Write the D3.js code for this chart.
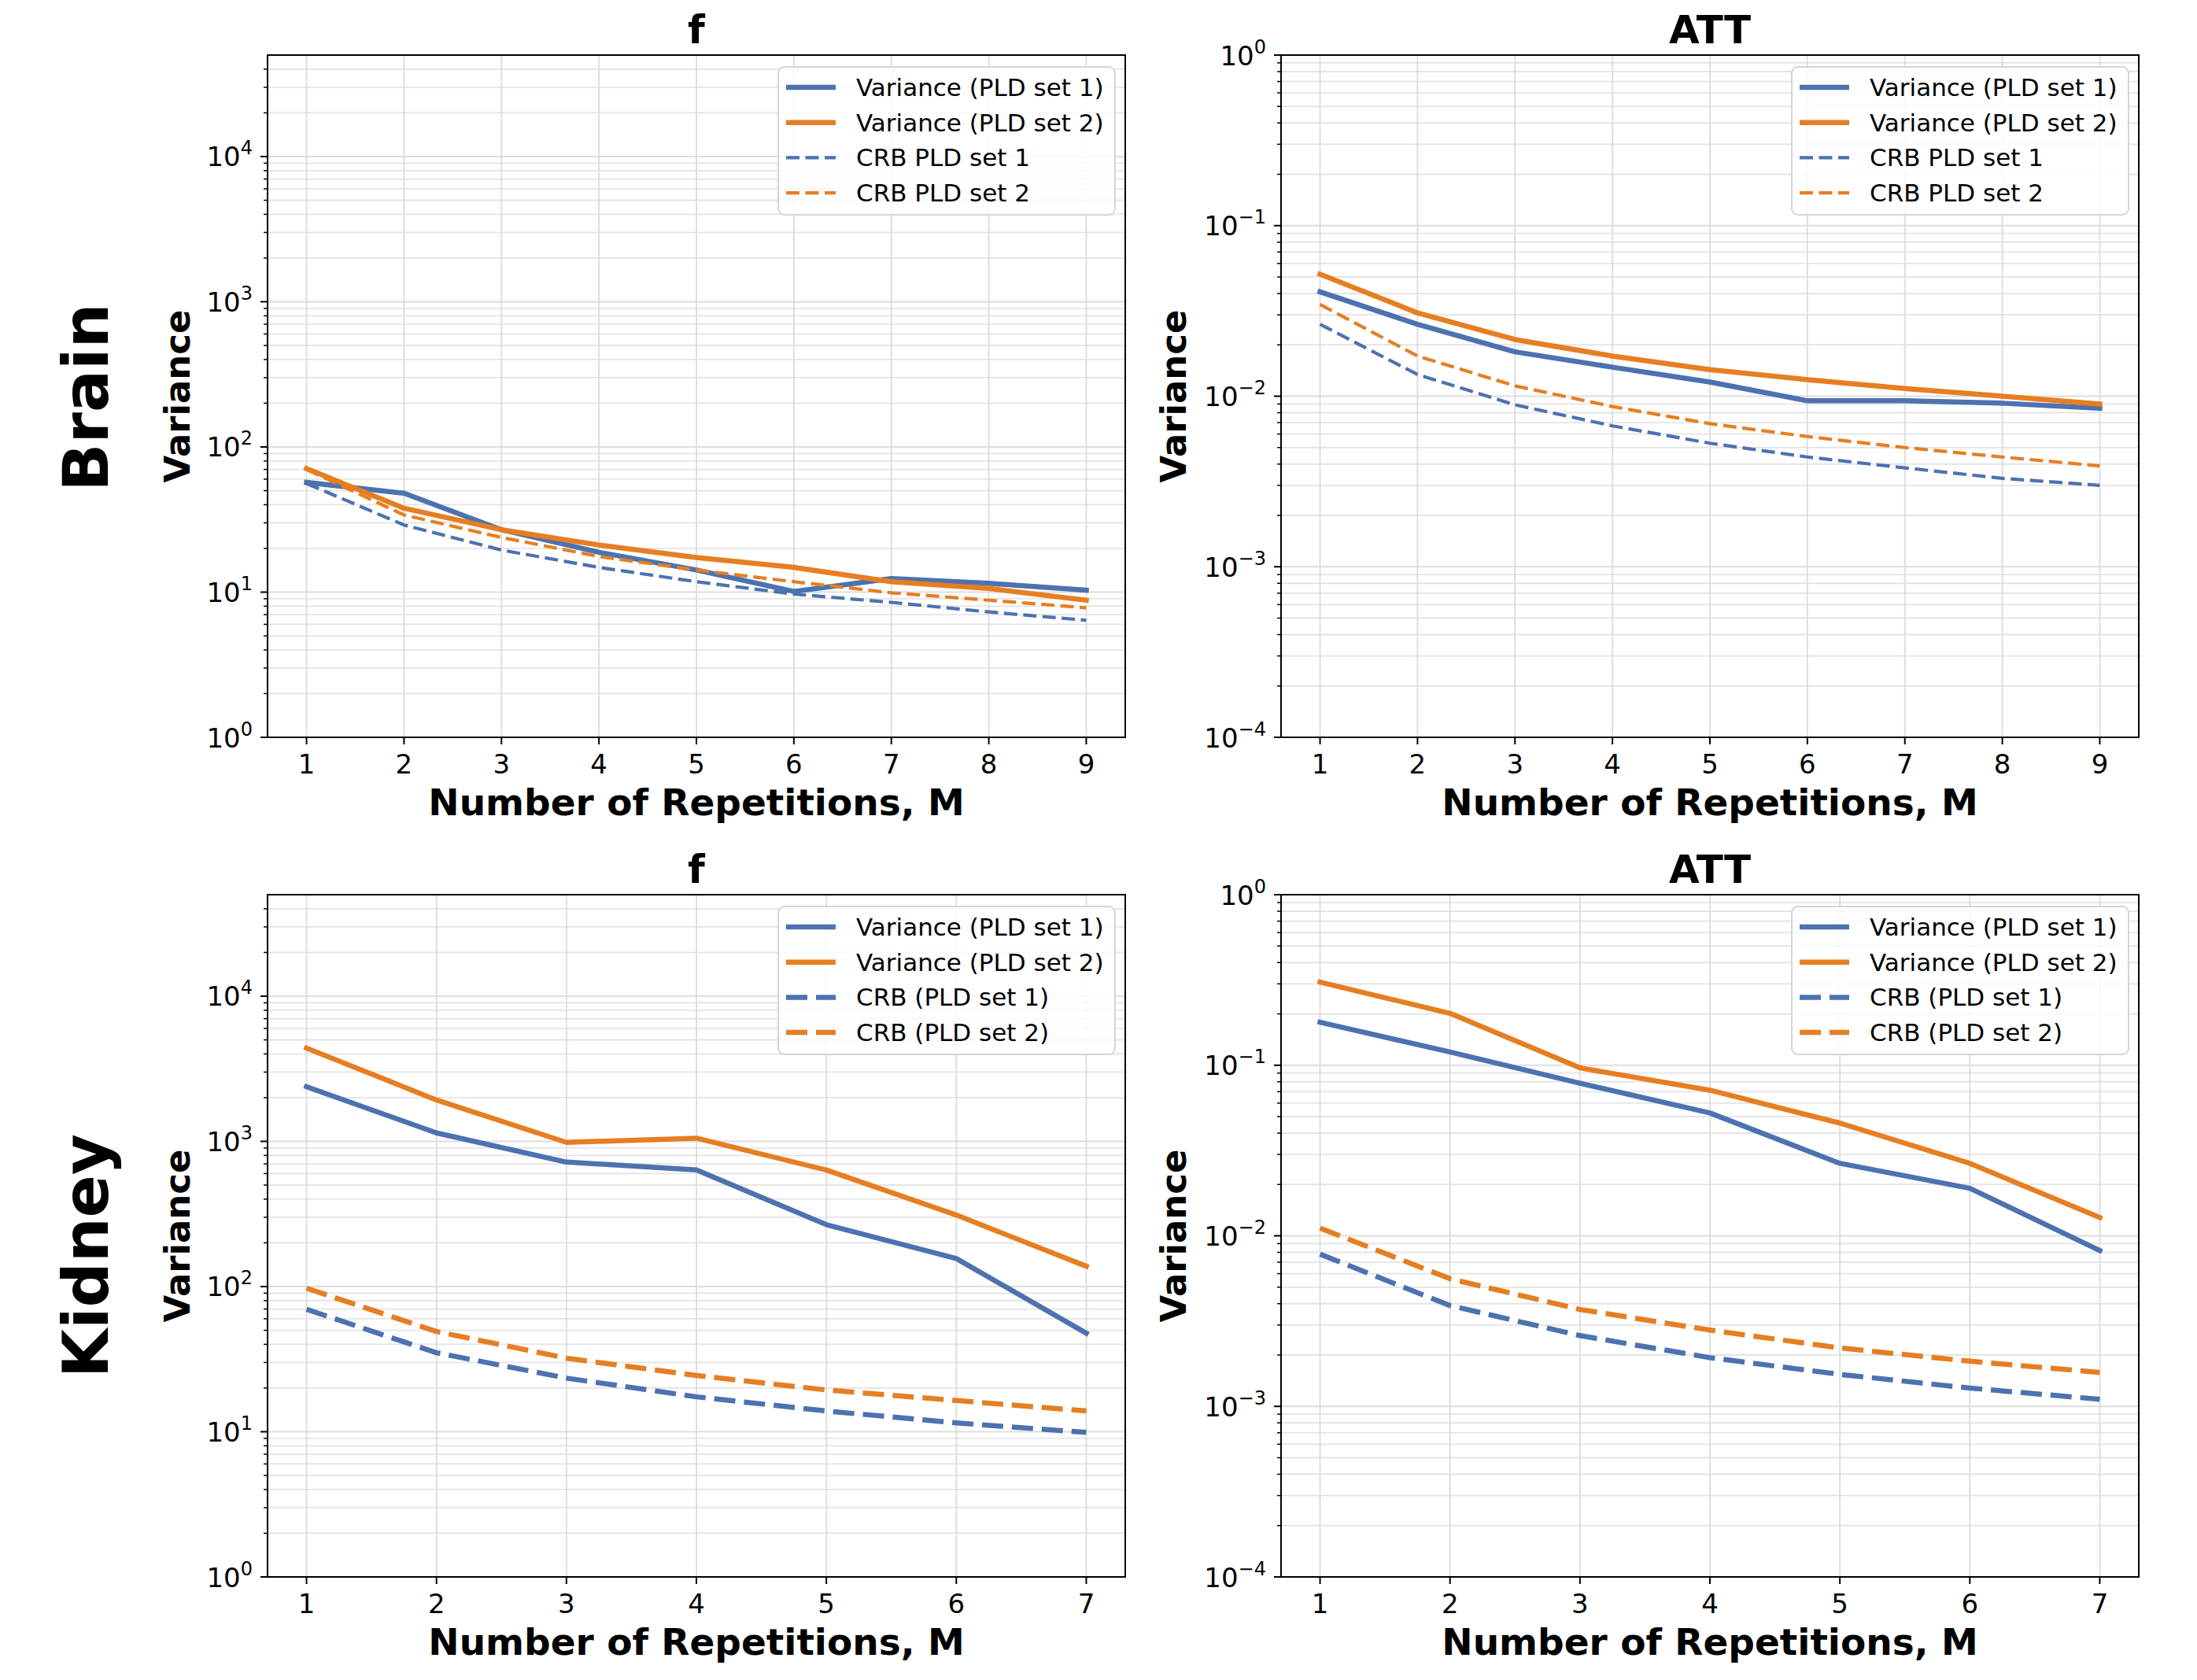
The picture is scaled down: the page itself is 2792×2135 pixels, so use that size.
<!DOCTYPE html>
<html>
<head>
<meta charset="utf-8">
<script src="https://cdn.jsdelivr.net/npm/d3@7"></script>
<style>
  body { margin: 0; background: #fff; }
  text { font-family: "DejaVu Sans", sans-serif; }
</style>
</head>
<body>
<svg id="fig" width="2792" height="2135"></svg>
<script>
// repetitions
var mBrain = [1, 2, 3, 4, 5, 6, 7, 8, 9];
var mKidney = [1, 2, 3, 4, 5, 6, 7];

// Brain, f
var brainFVar1 = [57, 48, 26.9, 18.8, 14.2, 10.1, 12.4, 11.5, 10.3];
var brainFVar2 = [71, 37.8, 26.9, 21.1, 17.3, 14.8, 11.8, 10.6, 8.8];
var brainFCrb1 = [56, 29, 19.5, 14.8, 11.8, 9.7, 8.5, 7.3, 6.4];
var brainFCrb2 = [70, 34, 23.8, 17.6, 14.2, 11.8, 9.9, 8.8, 7.8];

// Brain, ATT
var brainAttVar1 = [0.0409, 0.0264, 0.0182, 0.0148, 0.0121, 0.0094, 0.0094, 0.0091, 0.0085];
var brainAttVar2 = [0.0519, 0.0308, 0.0215, 0.0172, 0.0143, 0.0125, 0.0111, 0.0100, 0.0090];
var brainAttCrb1 = [0.0264, 0.0134, 0.0089, 0.0067, 0.0053, 0.0044, 0.0038, 0.0033, 0.0030];
var brainAttCrb2 = [0.0345, 0.0172, 0.0115, 0.0087, 0.0069, 0.0058, 0.0050, 0.0044, 0.0039];

// Kidney, f
var kidneyFVar1 = [2377, 1143, 720, 635, 267, 156, 47.7];
var kidneyFVar2 = [4387, 1926, 984, 1052, 635, 311, 138];
var kidneyFCrb1 = [69.7, 35, 23.4, 17.4, 13.9, 11.5, 9.9];
var kidneyFCrb2 = [97.5, 49, 32.1, 24.4, 19.4, 16.4, 13.9];

// Kidney, ATT
var kidneyAttVar1 = [0.1786, 0.1196, 0.0784, 0.0525, 0.0266, 0.0190, 0.0082];
var kidneyAttVar2 = [0.307, 0.2015, 0.0965, 0.0714, 0.0458, 0.0266, 0.0128];
var kidneyAttCrb1 = [0.0078, 0.0039, 0.0026, 0.00193, 0.00154, 0.00128, 0.0011];
var kidneyAttCrb2 = [0.0111, 0.0056, 0.0037, 0.0028, 0.0022, 0.00184, 0.00158];

var legendBrain = ["Variance (PLD set 1)", "Variance (PLD set 2)", "CRB PLD set 1", "CRB PLD set 2"];
var legendKidney = ["Variance (PLD set 1)", "Variance (PLD set 2)", "CRB (PLD set 1)", "CRB (PLD set 2)"];

var fExponents = [0, 1, 2, 3, 4];
var attExponents = [-4, -3, -2, -1, 0];

var rowLabels = ["Brain", "Kidney"];

var blue = "#4c72b0", orange = "#e67e22";

var panels = [
  {x0: 340, x1: 1430, y0: 70, y1: 937, title: "f", xs: mBrain, ydom: [1, 5e4], exps: fExponents,
   series: [brainFVar1, brainFVar2, brainFCrb1, brainFCrb2], labels: legendBrain,
   dashW: 4.2, dash: "17,7.5", ylabOff: 99},
  {x0: 1628, x1: 2718, y0: 70, y1: 937, title: "ATT", xs: mBrain, ydom: [1e-4, 1], exps: attExponents,
   series: [brainAttVar1, brainAttVar2, brainAttCrb1, brainAttCrb2], labels: legendBrain,
   dashW: 4.2, dash: "17,7.5", ylabOff: 121},
  {x0: 340, x1: 1430, y0: 1137, y1: 2004, title: "f", xs: mKidney, ydom: [1, 5e4], exps: fExponents,
   series: [kidneyFVar1, kidneyFVar2, kidneyFCrb1, kidneyFCrb2], labels: legendKidney,
   dashW: 6.5, dash: "27,11", ylabOff: 99},
  {x0: 1628, x1: 2718, y0: 1137, y1: 2004, title: "ATT", xs: mKidney, ydom: [1e-4, 1], exps: attExponents,
   series: [kidneyAttVar1, kidneyAttVar2, kidneyAttCrb1, kidneyAttCrb2], labels: legendKidney,
   dashW: 6.5, dash: "27,11", ylabOff: 121}
];

var svg = d3.select("#fig");

panels.forEach(function(p) {
  var n = p.xs.length;
  var pad = (n - 1) * 0.05;
  var x = d3.scaleLinear().domain([1 - pad, n + pad]).range([p.x0, p.x1]);
  var y = d3.scaleLog().domain(p.ydom).range([p.y1, p.y0]);
  var g = svg.append("g");

  // minor values on the log axis
  var minor = [];
  var lo = Math.floor(Math.log10(p.ydom[0])), hi = Math.ceil(Math.log10(p.ydom[1]));
  for (var d = lo; d < hi; d++) {
    for (var k = 2; k <= 9; k++) {
      var v = k * Math.pow(10, d);
      if (v > p.ydom[0] && v < p.ydom[1]) minor.push(v);
    }
  }

  // grid
  g.selectAll(".gminor").data(minor).enter().append("line")
    .attr("x1", p.x0).attr("x2", p.x1)
    .attr("y1", function(v) { return y(v); }).attr("y2", function(v) { return y(v); })
    .attr("stroke", "#e4e4e4").attr("stroke-width", 1.8);
  g.selectAll(".gmajor").data(p.exps).enter().append("line")
    .attr("x1", p.x0).attr("x2", p.x1)
    .attr("y1", function(e) { return y(Math.pow(10, e)); }).attr("y2", function(e) { return y(Math.pow(10, e)); })
    .attr("stroke", "#dedede").attr("stroke-width", 2);
  g.selectAll(".gx").data(p.xs).enter().append("line")
    .attr("x1", function(v) { return x(v); }).attr("x2", function(v) { return x(v); })
    .attr("y1", p.y0).attr("y2", p.y1)
    .attr("stroke", "#dedede").attr("stroke-width", 2);

  // lines
  var line = d3.line()
    .x(function(d, i) { return x(p.xs[i]); })
    .y(function(d) { return y(d); });
  var styles = [
    {c: blue, w: 6.5, dash: null},
    {c: orange, w: 6.5, dash: null},
    {c: blue, w: p.dashW, dash: p.dash},
    {c: orange, w: p.dashW, dash: p.dash}
  ];
  p.series.forEach(function(s, i) {
    var st = styles[i];
    g.append("path").datum(s)
      .attr("d", line)
      .attr("fill", "none")
      .attr("stroke", st.c)
      .attr("stroke-width", st.w)
      .attr("stroke-linejoin", "round")
      .attr("stroke-linecap", st.dash ? "butt" : "square")
      .attr("stroke-dasharray", st.dash);
  });

  // frame
  g.append("rect")
    .attr("x", p.x0).attr("y", p.y0)
    .attr("width", p.x1 - p.x0).attr("height", p.y1 - p.y0)
    .attr("fill", "none").attr("stroke", "#000").attr("stroke-width", 2);

  // x axis ticks
  g.selectAll(".xt").data(p.xs).enter().append("line")
    .attr("x1", function(v) { return x(v); }).attr("x2", function(v) { return x(v); })
    .attr("y1", p.y1).attr("y2", p.y1 + 9)
    .attr("stroke", "#000").attr("stroke-width", 2);
  g.selectAll(".xl").data(p.xs).enter().append("text")
    .attr("x", function(v) { return x(v); })
    .attr("y", p.y1 + 46)
    .attr("text-anchor", "middle")
    .attr("font-size", 34)
    .text(function(v) { return v; });

  // y axis ticks
  g.selectAll(".yt").data(p.exps).enter().append("line")
    .attr("x1", p.x0 - 9).attr("x2", p.x0)
    .attr("y1", function(e) { return y(Math.pow(10, e)); }).attr("y2", function(e) { return y(Math.pow(10, e)); })
    .attr("stroke", "#000").attr("stroke-width", 2);
  g.selectAll(".ym").data(minor).enter().append("line")
    .attr("x1", p.x0 - 5).attr("x2", p.x0)
    .attr("y1", function(v) { return y(v); }).attr("y2", function(v) { return y(v); })
    .attr("stroke", "#000").attr("stroke-width", 1.5);
  var yl = g.selectAll(".yl").data(p.exps).enter().append("text")
    .attr("x", p.x0 - 19)
    .attr("y", function(e) { return y(Math.pow(10, e)) + 12.5; })
    .attr("text-anchor", "end")
    .attr("font-size", 34);
  yl.append("tspan").text("10");
  yl.append("tspan").attr("dy", -15).attr("font-size", 24)
    .text(function(e) { return e < 0 ? "\u2212" + (-e) : e; });

  // title and labels
  g.append("text")
    .attr("x", (p.x0 + p.x1) / 2).attr("y", p.y0 - 15)
    .attr("text-anchor", "middle").attr("font-size", 50).attr("font-weight", "bold")
    .text(p.title);
  g.append("text")
    .attr("x", (p.x0 + p.x1) / 2).attr("y", p.y1 + 99)
    .attr("text-anchor", "middle").attr("font-size", 47).attr("font-weight", "bold")
    .text("Number of Repetitions, M");
  var yc = (p.y0 + p.y1) / 2;
  g.append("text")
    .attr("transform", "translate(" + (p.x0 - p.ylabOff) + "," + yc + ") rotate(-90)")
    .attr("text-anchor", "middle").attr("font-size", 45).attr("font-weight", "bold")
    .text("Variance");

  // legend
  var lw = 428, lh = 188;
  var lx = p.x1 - 13 - lw, ly = p.y0 + 15;
  var lg = g.append("g");
  lg.append("rect")
    .attr("x", lx).attr("y", ly).attr("width", lw).attr("height", lh)
    .attr("rx", 8).attr("ry", 8)
    .attr("fill", "#fff").attr("fill-opacity", 0.8)
    .attr("stroke", "#d5d5d5").attr("stroke-width", 2);
  p.labels.forEach(function(lab, i) {
    var st = styles[i];
    var ry = ly + 26 + i * 44.7;
    lg.append("line")
      .attr("x1", lx + 10).attr("x2", lx + 73)
      .attr("y1", ry).attr("y2", ry)
      .attr("stroke", st.c).attr("stroke-width", st.w)
      .attr("stroke-dasharray", st.dash);
    lg.append("text")
      .attr("x", lx + 99).attr("y", ry + 11)
      .attr("font-size", 31)
      .text(lab);
  });
});

// row labels
svg.selectAll(".row").data(rowLabels).enter().append("text")
  .attr("transform", function(d, i) { return "translate(137," + (i === 0 ? 505 : 1596) + ") rotate(-90)"; })
  .attr("text-anchor", "middle")
  .attr("font-size", 80).attr("font-weight", "bold")
  .text(function(d) { return d; });
</script>
</body>
</html>
